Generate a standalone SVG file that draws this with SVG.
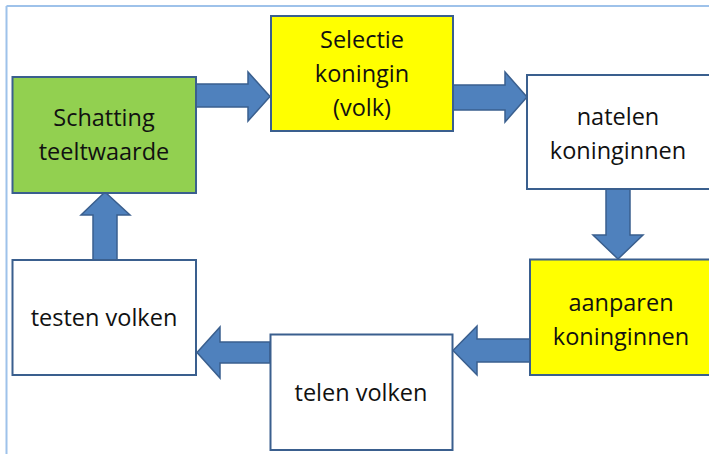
<svg xmlns="http://www.w3.org/2000/svg" width="709" height="454" viewBox="0 0 709 454">
<style>
.box{stroke:#3A5F8E;stroke-width:2}
.white{fill:#FFFFFF}
.yellow{fill:#FFFF00}
.green{fill:#92D050}
.arrow{fill:#4F81BD;stroke:#3A5F8E;stroke-width:1.5;stroke-linejoin:miter}
text{font-family:"Open Sans","Liberation Sans",sans-serif;font-size:23.5px;fill:#111111;text-anchor:middle}
</style>
<rect x="0" y="0" width="709" height="454" fill="#FFFFFF"/>
<g id="frame">
<line x1="6.5" y1="6" x2="709" y2="6" stroke="#9EC2EA" stroke-width="2"/>
<line x1="6.5" y1="6" x2="6.5" y2="454" stroke="#9EC2EA" stroke-width="2"/>
</g>
<g id="connectors">
<polygon class="arrow" points="196,84 248,84 248,72 270,96.5 248,121 248,107 196,107"/>
<polygon class="arrow" points="453,85 505,85 505,72 527,97 505,122 505,110 453,110"/>
<polygon class="arrow" points="606,189 630,189 630,235 643,235 618,259 593,235 606,235"/>
<polygon class="arrow" points="530,339 477,339 477,326 453,350.5 477,375 477,362 530,362"/>
<polygon class="arrow" points="270,342 220,342 220,327 197,352.5 220,378 220,363 270,363"/>
<polygon class="arrow" points="93,260 93,215 81,215 105,192 130,215 117,215 117,260"/>
</g>
<g id="schatting">
<rect class="box green" x="12.5" y="77" width="183.5" height="116"/>
<text x="104" y="126">Schatting</text>
<text x="104" y="160">teeltwaarde</text>
</g>
<g id="selectie">
<rect class="box yellow" x="271" y="16" width="182" height="115"/>
<text x="362" y="48">Selectie</text>
<text x="362" y="82">koningin</text>
<text x="362" y="116">(volk)</text>
</g>
<g id="natelen">
<rect class="box white" x="527" y="75" width="184" height="114"/>
<text x="618" y="125">natelen</text>
<text x="618" y="159">koninginnen</text>
</g>
<g id="aanparen">
<rect class="box yellow" x="530" y="259.5" width="181" height="115.5"/>
<text x="621" y="311">aanparen</text>
<text x="621" y="345">koninginnen</text>
</g>
<g id="telen">
<rect class="box white" x="270.5" y="334.5" width="182" height="115.5"/>
<text x="361" y="401">telen volken</text>
</g>
<g id="testen">
<rect class="box white" x="12.5" y="260" width="183.5" height="115"/>
<text x="104" y="326">testen volken</text>
</g>
</svg>
